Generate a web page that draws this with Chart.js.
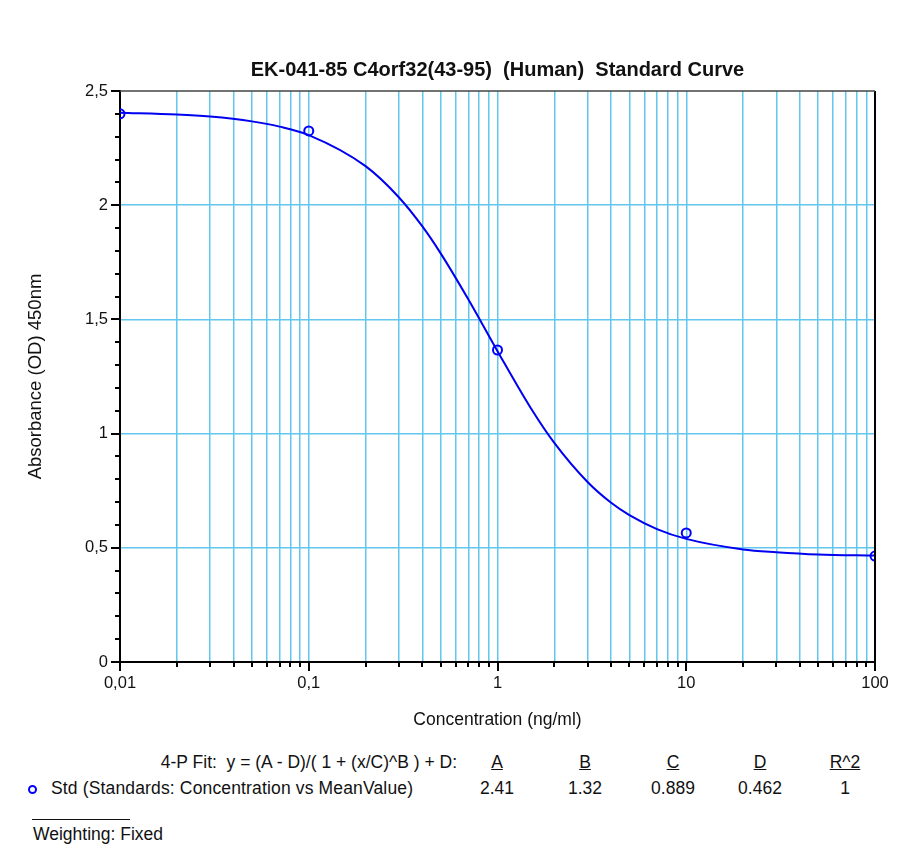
<!DOCTYPE html>
<html>
<head>
<meta charset="utf-8">
<script src="https://cdn.jsdelivr.net/npm/chart.js@4.4.1/dist/chart.umd.min.js"></script>
<style>
    body { margin: 0; background: #fff; font-family: "Liberation Sans", Arial, sans-serif; }
    #wrap { position: relative; width: 920px; height: 868px; }
    #chartBox { position: absolute; left: 0; top: 0; width: 920px; height: 745px; }
    .txt { position: absolute; font-size: 17.5px; color: #111; white-space: nowrap; }
    .col { position: absolute; font-size: 17.5px; color: #111; width: 80px; text-align: center; }
    .hdr { text-decoration: underline; }
    .mark { position: absolute; width: 5px; height: 5px; border: 2px solid #0000ff; border-radius: 50%; }
</style>
</head>
<body>
<div id="wrap">
    <div id="chartBox"><canvas id="curveChart"></canvas></div>
    <div class="txt" style="left:105px; top:752px; width:352px; text-align:right;">4-P Fit:&nbsp; y = (A - D)/( 1 + (x/C)^B ) + D:</div>
    <div id="fitHead"></div>
    <div id="fitRow"></div>
    <div class="mark" style="left:28px; top:785px;"></div>
    <div class="txt" style="left:51px; top:778px; letter-spacing:0.15px;">Std (Standards: Concentration vs MeanValue)</div>
    <div style="position:absolute; left:32px; top:819px; width:98px; height:1px; background:#111;"></div>
    <div class="txt" style="left:33px; top:824px;">Weighting: Fixed</div>
</div>
<script>
// Standards
const stdConc = [0.01, 0.1, 1, 10, 100];
const stdOD = [2.40, 2.325, 1.366, 0.565, 0.464];

// Fitted curve, sampled along the drawn line
const curveConc = [0.01, 0.02, 0.03, 0.05, 0.07, 0.1, 0.2, 0.3, 0.4, 0.5, 0.7, 1, 1.5, 2, 3, 4, 5, 7, 10, 20, 30, 50, 100];
const curveOD = [2.405, 2.397, 2.388, 2.367, 2.344, 2.307, 2.171, 2.035, 1.907, 1.789, 1.588, 1.361, 1.112, 0.959, 0.788, 0.697, 0.643, 0.582, 0.539, 0.493, 0.481, 0.471, 0.466];

// Fit parameters table
const fitNames = ['A', 'B', 'C', 'D', 'R^2'];
const fitValues = ['2.41', '1.32', '0.889', '0.462', '1'];
const fitCenters = [497, 585, 673, 760, 845];

const GRID_BLUE = '#62c6ee';
const FONT = '"Liberation Sans", Arial, sans-serif';

// Fill the parameter table
const head = document.getElementById('fitHead');
const row = document.getElementById('fitRow');
head.innerHTML = fitNames.map((n, i) =>
    `<div class="col hdr" style="left:${fitCenters[i] - 40}px; top:752px;">${n}</div>`).join('');
row.innerHTML = fitValues.map((v, i) =>
    `<div class="col" style="left:${fitCenters[i] - 40}px; top:778px;">${v}</div>`).join('');

// Log ticks 1..9 per decade
function decadeTicks(min, max) {
    const out = [];
    for (let e = Math.log10(min); e < Math.log10(max); e++) {
        for (let m = 1; m <= 9; m++) out.push(+(m * Math.pow(10, e)).toPrecision(3));
    }
    out.push(max);
    return out;
}
const isPow10 = v => Math.abs(Math.log10(v) - Math.round(Math.log10(v))) < 1e-9;
const isHalf = v => Math.round(v * 10) % 5 === 0;
const comma = v => String(+v.toFixed(2)).replace('.', ',');

// Tick marks (major long, minor short) and box frame
const frame = {
    id: 'frame',
    afterDraw(chart) {
        const { ctx, chartArea: a, scales: { x, y } } = chart;
        ctx.save();
        ctx.strokeStyle = '#000';
        ctx.lineWidth = 2;
        x.ticks.forEach(t => {
            const px = Math.round(x.getPixelForValue(t.value));
            const len = isPow10(t.value) ? 9 : 5;
            ctx.beginPath(); ctx.moveTo(px, a.bottom); ctx.lineTo(px, a.bottom + len); ctx.stroke();
        });
        y.ticks.forEach(t => {
            const py = Math.round(y.getPixelForValue(t.value));
            const len = isHalf(t.value) ? 9 : 5;
            ctx.beginPath(); ctx.moveTo(a.left, py); ctx.lineTo(a.left - len, py); ctx.stroke();
        });
        ctx.beginPath(); ctx.moveTo(a.right, a.top); ctx.lineTo(a.right, a.bottom); ctx.stroke();
        ctx.strokeStyle = '#444';
        ctx.lineWidth = 1.5;
        ctx.beginPath(); ctx.moveTo(a.left, a.top); ctx.lineTo(a.right, a.top); ctx.stroke();
        ctx.restore();
    }
};

const ctx = document.getElementById('curveChart').getContext('2d');
new Chart(ctx, {
    type: 'scatter',
    data: {
        datasets: [{
            label: 'Std',
            data: stdConc.map((c, i) => ({ x: c, y: stdOD[i] })),
            pointStyle: 'circle',
            pointRadius: 4.5,
            pointBorderWidth: 2,
            borderColor: '#0000ff',
            backgroundColor: 'rgba(0,0,0,0)',
            showLine: false
        }, {
            label: 'Fit',
            data: curveConc.map((c, i) => ({ x: c, y: curveOD[i] })),
            showLine: true,
            pointRadius: 0,
            borderColor: '#0000f0',
            borderWidth: 2,
            cubicInterpolationMode: 'monotone'
        }]
    },
    options: {
        responsive: true,
        maintainAspectRatio: false,
        animation: false,
        layout: { padding: { left: 0, right: 45, top: 0, bottom: 0 } },
        plugins: {
            legend: { display: false },
            tooltip: { enabled: false },
            title: {
                display: true,
                fullSize: false,
                text: 'EK-041-85 C4orf32(43-95)  (Human)  Standard Curve',
                color: '#111',
                font: { family: FONT, size: 20, weight: 'bold' },
                padding: { top: 58, bottom: 9 }
            }
        },
        scales: {
            x: {
                type: 'logarithmic',
                min: 0.01,
                max: 100,
                afterBuildTicks: s => { s.ticks = decadeTicks(0.01, 100).map(v => ({ value: v })); },
                afterFit: s => { s.height = 83; },
                ticks: {
                    autoSkip: false,
                    maxRotation: 0,
                    padding: 4,
                    color: '#111',
                    font: { family: FONT, size: 16.5 },
                    callback: v => isPow10(v) ? comma(v) : ''
                },
                grid: {
                    color: c => (c.tick && c.tick.value > 0.01 && c.tick.value < 100) ? GRID_BLUE : 'rgba(0,0,0,0)',
                    lineWidth: 1.5,
                    tickLength: 8,
                    tickColor: 'rgba(0,0,0,0)'
                },
                border: { display: true, color: '#000', width: 2 },
                title: {
                    display: true,
                    text: 'Concentration (ng/ml)',
                    color: '#111',
                    font: { family: FONT, size: 17.5 },
                    padding: { top: 0, bottom: 14 }
                }
            },
            y: {
                type: 'linear',
                min: 0,
                max: 2.5,
                afterFit: s => { s.width = 120; },
                ticks: {
                    stepSize: 0.1,
                    autoSkip: false,
                    padding: 4,
                    color: '#111',
                    font: { family: FONT, size: 16.5 },
                    callback: v => isHalf(v) ? comma(v) : ''
                },
                grid: {
                    color: c => (c.tick && isHalf(c.tick.value) && c.tick.value > 0.01 && c.tick.value < 2.49) ? GRID_BLUE : 'rgba(0,0,0,0)',
                    lineWidth: 1.5,
                    tickLength: 8,
                    tickColor: 'rgba(0,0,0,0)'
                },
                border: { display: true, color: '#000', width: 2 },
                title: {
                    display: true,
                    text: 'Absorbance (OD) 450nm',
                    color: '#111',
                    font: { family: FONT, size: 18.5 },
                    padding: { top: 25, bottom: 0 }
                }
            }
        }
    },
    plugins: [frame]
});
</script>
</body>
</html>
